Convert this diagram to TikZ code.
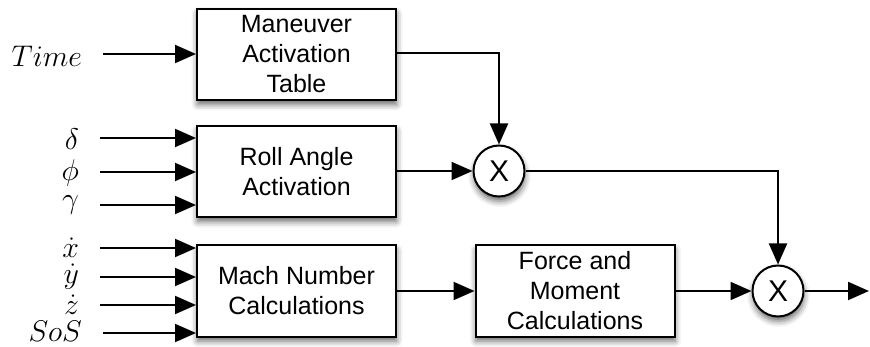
\documentclass[tikz,border=0pt]{standalone}
\usepackage{graphicx}
\usepackage{fontspec}
\setmainfont{Liberation Sans}
\usetikzlibrary{arrows.meta,shadows.blur}
% math input names, enlarged past the largest fixed math size
\newcommand\inname[1]{\scalebox{1.2}{\Huge$#1$}}
\begin{document}
\begin{tikzpicture}[x=1pt,y=-1pt,
  line width=2pt,
  flow/.style={-{Triangle[length=21pt,width=18pt]}},
  softshadow/.style={blur shadow={shadow xshift=0.5pt, shadow yshift=-4.5pt,
    shadow blur radius=6pt, shadow opacity=60}},
  blockbox/.style={draw, fill=white, align=center, inner sep=2pt,
    minimum width=199pt, minimum height=91pt,
    font=\fontsize{25}{30}\selectfont, softshadow},
  mult/.style={draw, fill=white, circle, minimum size=51pt, inner sep=0pt,
    font=\fontsize{30}{30}\selectfont, softshadow},
  inlabel/.style={anchor=east, inner sep=0pt}]
\useasboundingbox (0,0) rectangle (870,347);

% blocks
\node[blockbox] (man)   at (296.5,54.5) {Maneuver\\Activation\\Table};
\node[blockbox] (roll)  at (296.5,171.5) {Roll Angle\\Activation};
\node[blockbox] (mach)  at (296.5,291) {Mach Number\\Calculations};
\node[blockbox] (force) at (575,291)   {Force and\\Moment\\Calculations};

% multipliers
\node[mult] (m1) at (499,171) {X};
\node[mult] (m2) at (778,291) {X};
\coordinate (out) at (869,291);

% input labels
\node[inlabel] (time) at (83,56)  {\inname{Time}};
\node[inlabel] (dl)   at (80,139) {\inname{\delta}};
\node[inlabel] (ph)   at (80,173) {\inname{\phi}};
\node[inlabel] (ga)   at (80,205) {\inname{\gamma}};
\node[inlabel] (xd)   at (80,248) {\inname{\dot x}};
\node[inlabel] (yd)   at (80,277) {\inname{\dot y}};
\node[inlabel] (zd)   at (80,305) {\inname{\dot z}};
\node[inlabel] (sos)  at (83,331) {\inname{SoS}};

% input arrows: start 20pt right of each name, end on the block's left side
\foreach \l/\y/\b in {time/54/man, dl/138/roll, ph/172/roll, ga/205/roll,
                      xd/248/mach, yd/277/mach, zd/305/mach, sos/333/mach}
  \draw[flow] ([xshift=20pt]\l.east |- 0,\y) -- (\b.west |- 0,\y);

% signal flow
\draw[flow] (man.east |- 0,53) -| (m1.north);
\draw[flow] (roll.east |- m1.west) -- (m1.west);
\draw[flow] (m1.east) -| (m2.north);
\draw[flow] (mach.east) -- (force.west);
\draw[flow] (force.east) -- (m2.west);
\draw[flow] (m2.east) -- (out);
\end{tikzpicture}
\end{document}
